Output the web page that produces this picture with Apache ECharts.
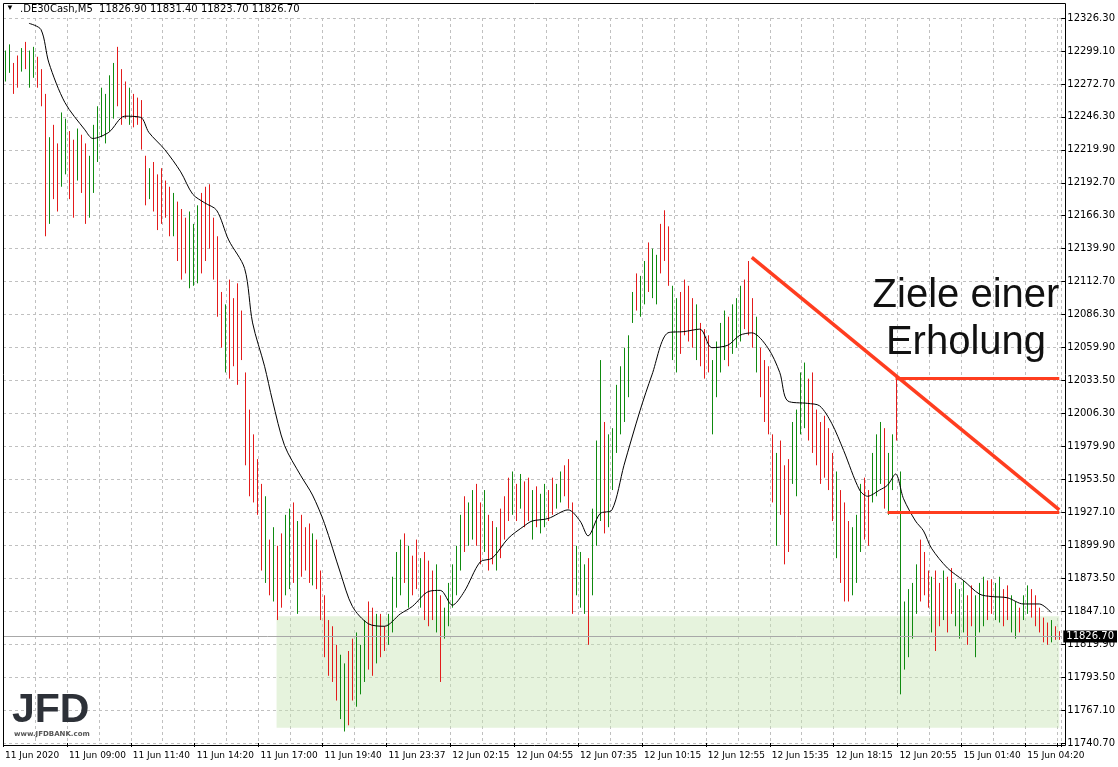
<!DOCTYPE html>
<html><head><meta charset="utf-8">
<script src="https://cdn.jsdelivr.net/npm/echarts@6/dist/echarts.min.js"></script>
<style>html,body{margin:0;padding:0;background:#fff}#c{width:1118px;height:767px}</style>
</head><body><div id="c"></div>
<script>
const timeLabels = ["11 Jun 2020","11 Jun 09:00","11 Jun 11:40","11 Jun 14:20","11 Jun 17:00","11 Jun 19:40","11 Jun 23:37","12 Jun 02:15","12 Jun 04:55","12 Jun 07:35","12 Jun 10:15","12 Jun 12:55","12 Jun 15:35","12 Jun 18:15","12 Jun 20:55","15 Jun 01:40","15 Jun 04:20"];
const priceLabels = ["11740.70","11767.10","11793.50","11819.90","11847.10","11873.50","11899.90","11927.10","11953.50","11979.90","12006.30","12033.50","12059.90","12086.30","12112.70","12139.90","12166.30","12192.70","12219.90","12246.30","12272.70","12299.10","12326.30"];
const highs = [12300,12305,12290,12296,12302,12307,12300,12303,12295,12285,
12265,12230,12240,12225,12250,12245,12235,12228,12237,12232,
12225,12215,12240,12255,12270,12265,12280,12290,12303,12285,
12275,12270,12265,12262,12260,12215,12205,12210,12200,12205,
12195,12190,12185,12178,12172,12165,12170,12160,12175,12185,
12190,12192,12165,12150,12105,12095,12115,12100,12112,12090,
12040,12010,11990,11970,11950,11940,11905,11915,11900,11910,
11925,11930,11935,11920,11925,11915,11918,11910,11905,11880,
11860,11840,11835,11820,11812,11805,11815,11825,11830,11820,
11840,11855,11850,11845,11845,11835,11845,11875,11895,11905,
11910,11900,11892,11905,11890,11895,11888,11880,11885,11860,
11850,11870,11885,11900,11925,11940,11935,11945,11950,11935,
11945,11925,11920,11915,11930,11940,11955,11960,11950,11958,
11952,11955,11945,11948,11942,11950,11945,11955,11950,11960,
11965,11970,11935,11900,11895,11885,11890,11930,11985,12050,
12000,11990,11995,12030,12045,12060,12070,12105,12120,12118,
12130,12145,12140,12135,12160,12171,12158,12110,12100,12105,
12115,12110,12100,12095,12080,12075,12070,12050,12065,12080,
12090,12085,12095,12100,12110,12115,12130,12100,12085,12060,
12050,12045,11990,11975,11985,11965,11970,12000,12010,12040,
12048,12035,12040,12010,12000,12005,11995,11975,11960,11945,
11935,11920,11915,11925,11950,11955,11945,11975,11990,12000,
11995,11975,11990,12035,11960,11855,11865,11870,11885,11905,
11895,11880,11875,11880,11870,11880,11875,11882,11870,11865,
11872,11860,11868,11860,11870,11875,11872,11873,11870,11875,
11865,11868,11860,11855,11850,11860,11868,11865,11860,11850,
11842,11838,11840,11835,11831];
const lows = [12275,12282,12265,12270,12283,12285,12270,12278,12270,12255,
12150,12160,12180,12170,12190,12200,12180,12165,12195,12185,
12160,12165,12185,12210,12230,12225,12235,12245,12255,12240,
12245,12240,12238,12240,12220,12175,12180,12170,12155,12160,
12165,12150,12150,12130,12115,12120,12108,12110,12112,12120,
12130,12140,12115,12085,12060,12040,12035,12045,12030,12050,
11965,11940,11935,11925,11880,11870,11860,11855,11840,11850,
11860,11865,11870,11845,11875,11880,11870,11868,11865,11840,
11810,11795,11790,11775,11760,11750,11755,11775,11770,11780,
11790,11800,11795,11805,11810,11815,11820,11830,11850,11860,
11870,11850,11860,11865,11850,11840,11835,11840,11830,11790,
11825,11835,11850,11860,11880,11895,11900,11905,11900,11885,
11895,11880,11885,11880,11890,11905,11920,11925,11920,11930,
11915,11920,11905,11915,11910,11915,11920,11925,11930,11935,
11940,11930,11845,11860,11850,11845,11820,11860,11900,11920,
11910,11915,11945,11975,11990,12000,12020,12080,12090,12085,
12095,12105,12100,12095,12120,12130,12110,12050,12040,12055,
12070,12065,12060,12050,12045,12035,12040,11990,12020,12040,
12050,12045,12055,12060,12065,12075,12070,12060,12040,12020,
12000,11990,11935,11900,11925,11885,11895,11950,11940,11990,
11995,11985,11975,11965,11950,11955,11945,11920,11890,11870,
11855,11855,11860,11870,11895,11905,11900,11935,11940,11950,
11930,11925,11945,11985,11780,11800,11810,11825,11845,11855,
11860,11850,11830,11815,11835,11840,11830,11845,11835,11825,
11830,11820,11835,11810,11830,11835,11840,11845,11840,11838,
11835,11840,11830,11825,11830,11840,11845,11842,11835,11830,
11822,11820,11822,11824,11824];
const directions = "uudduduudd"+"dudduuddud"+"duuuuuuudd"+"dudddduddd"+"dduddduuud"+"dddddudddd"+"dddddududd"+"uududddudd"+"dddduudduu"+"uddudduuuu"+"duddudddud"+"uuuuuduudd"+"uddudddudu"+"dduduudduu"+"ddduuuduuu"+"duuuuuuudu"+"uduuddduud"+"ddduddduuu"+"uduuudddud"+"ddduddduuu"+"udddddddud"+"dduuudduuu"+"duuduuuuud"+"dduddudduu"+"udduuudduu"+"dduuduuddd"+"ddudd";
const maIdx = [6,9,11,15,20,22,26,30,34,36,40,44,47,50,53,56,60,62,65,67,70,74,77,80,84,87,91,95,99,102,106,109,112,115,119,122,126,130,132,136,141,144,146,149,152,155,159,162,166,170,174,177,181,184,187,191,194,196,201,204,207,210,214,216,219,221,223,225,228,230,232,236,240,244,247,251,255,259,262];
const maVal = [12322,12317,12290,12258,12236,12229,12234,12247,12246,12234,12220,12202,12184,12177,12171,12147,12124,12080,12045,12017,11981,11957,11941,11918,11878,11851,11837,11835,11845,11851,11863,11864,11852,11863,11887,11890,11906,11916,11920,11922,11929,11920,11908,11926,11929,11965,12009,12038,12072,12073,12075,12060,12062,12070,12072,12060,12040,12017,12015,12013,11999,11977,11945,11940,11945,11949,11958,11938,11920,11912,11898,11882,11872,11861,11859,11858,11853,11853,11846];
const lastPrice = 11826.70;
const zone = [[68,11843],[264,11753]];
const trendLine = [[187,12133],[264,11929]];
const targetLines = [[[223,12035],[264,12035]],[[221,11927],[264,11927]]];

const N = highs.length;
const cats = [];
for (let i=0;i<N;i++) cats.push(i%16===0 ? timeLabels[i/16] : '');
const barData = highs.map((h,i)=>[i,h,lows[i]]);
const maData = maIdx.map((x,k)=>[x,maVal[k]]);
const yMin = 11740.7, yMax = 12326.3, step = (yMax-yMin)/22;
const red = '#ff3d1f';
const chart = echarts.init(document.getElementById('c'));
chart.setOption({
  animation:false,
  grid:{left:3,right:53,top:18,bottom:24},
  xAxis:{type:'category',data:cats,boundaryGap:true,
    axisLine:{show:false},
    axisTick:{show:true,interval:15,length:4,lineStyle:{color:'#000'}},
    axisLabel:{interval:0,align:'left',color:'#000',fontFamily:'DejaVu Sans',fontSize:9,margin:8},
    splitLine:{show:true,interval:7,lineStyle:{color:'#c0c0c0',type:[3,3]}}},
  yAxis:{type:'value',position:'right',min:yMin,max:yMax,interval:step,
    axisLine:{show:false},
    axisTick:{show:true,length:4,lineStyle:{color:'#000'}},
    axisLabel:{color:'#000',fontFamily:'DejaVu Sans',fontSize:10,margin:6,
      formatter:v=>priceLabels[Math.round((v-yMin)/step)]||''},
    splitLine:{show:true,lineStyle:{color:'#c0c0c0',type:[3,3]}}},
  series:[
    {type:'custom',data:barData,encode:{x:0,y:[1,2]},clip:true,z:3,
      renderItem:(p,api)=>{
        const x=api.value(0);
        const a=api.coord([x,api.value(1)]), b=api.coord([x,api.value(2)]);
        const c = directions[p.dataIndex]==='u' ? '#0f8a0f' : '#e31b1b';
        const px = Math.round(a[0])+0.5;
        return {type:'line',shape:{x1:px,y1:a[1],x2:px,y2:b[1]},style:{stroke:c,lineWidth:1}};
      },
      markArea:{silent:true,itemStyle:{color:'rgba(200,228,180,0.45)'},data:[[{coord:zone[0]},{coord:zone[1]}]]},
      markLine:{silent:true,symbol:'none',animation:false,
        data:[
          [{coord:trendLine[0],lineStyle:{color:red,width:3.5,type:'solid'}},{coord:trendLine[1]}],
          [{coord:targetLines[0][0],lineStyle:{color:red,width:3,type:'solid'}},{coord:targetLines[0][1]}],
          [{coord:targetLines[1][0],lineStyle:{color:red,width:3,type:'solid'}},{coord:targetLines[1][1]}],
          {yAxis:lastPrice,lineStyle:{color:'#a8a8a8',width:1,type:'solid'},
            label:{show:true,position:'end',distance:2,formatter:'11826.70',backgroundColor:'#000',color:'#fff',fontFamily:'DejaVu Sans',fontSize:10,padding:[1,3]}}
        ],label:{show:false}}
    },
    {type:'line',data:maData,showSymbol:false,symbol:'none',smooth:0.3,clip:true,z:4,
      lineStyle:{color:'#000',width:1}}
  ],
  graphic:[
    {type:'rect',shape:{x:3.5,y:3.5,width:1062,height:742},style:{fill:'none',stroke:'#000',lineWidth:1},z:10,silent:true},
    {type:'text',left:6,top:4,style:{text:'▼',fontSize:8,fill:'#000'},z:11},
    {type:'text',left:20,top:4,style:{text:'.DE30Cash,M5  11826.90 11831.40 11823.70 11826.70',fontSize:10,fontFamily:'DejaVu Sans',fill:'#000'},z:11},
    {type:'text',x:966,y:296,style:{text:'Ziele einer',fontSize:40,fontFamily:'Liberation Sans',fill:'#111',textAlign:'center',textVerticalAlign:'middle'},z:11},
    {type:'text',x:966,y:343,style:{text:'Erholung',fontSize:40,fontFamily:'Liberation Sans',fill:'#111',textAlign:'center',textVerticalAlign:'middle'},z:11},
    {type:'text',left:12,top:690,style:{text:'JFD',fontSize:41,fontWeight:'bold',fontFamily:'Liberation Sans',fill:'#2d3138'},z:11},
    {type:'text',left:14,top:731,style:{text:'www.JFDBANK.com',fontSize:7,fontWeight:'bold',fontFamily:'DejaVu Sans',fill:'#555'},z:11}
  ]
});
</script></body></html>
